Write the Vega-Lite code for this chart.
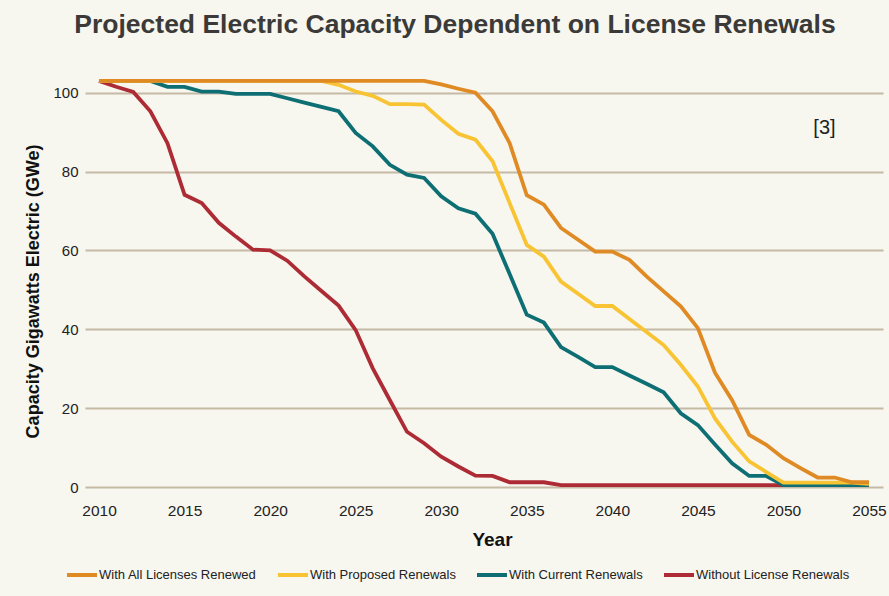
{
  "$schema": "https://vega.github.io/schema/vega-lite/v6.json",
  "width": 798,
  "height": 414,
  "autosize": {"type": "none"},
  "padding": {"left": 85, "top": 73, "right": 6, "bottom": 109},
  "background": "#f7f6ef",
  "config": {"view": {"stroke": null}, "font": "Liberation Sans"},
  "title": {
    "text": "Projected Electric Capacity Dependent on License Renewals",
    "fontSize": 26.5,
    "fontWeight": "bold",
    "color": "#3b3a38",
    "anchor": "middle",
    "frame": "group",
    "dx": -29,
    "offset": 35
  },
  "data": {
    "values": [
      {"series": "Without License Renewals", "year": 2010, "gwe": 103},
      {"series": "Without License Renewals", "year": 2011, "gwe": 101.5},
      {"series": "Without License Renewals", "year": 2012, "gwe": 100.2},
      {"series": "Without License Renewals", "year": 2013, "gwe": 95.3},
      {"series": "Without License Renewals", "year": 2014, "gwe": 87.2},
      {"series": "Without License Renewals", "year": 2015, "gwe": 74.1},
      {"series": "Without License Renewals", "year": 2016, "gwe": 72},
      {"series": "Without License Renewals", "year": 2017, "gwe": 67},
      {"series": "Without License Renewals", "year": 2018, "gwe": 63.5},
      {"series": "Without License Renewals", "year": 2019, "gwe": 60.2},
      {"series": "Without License Renewals", "year": 2020, "gwe": 60},
      {"series": "Without License Renewals", "year": 2021, "gwe": 57.4},
      {"series": "Without License Renewals", "year": 2022, "gwe": 53.4},
      {"series": "Without License Renewals", "year": 2023, "gwe": 49.7},
      {"series": "Without License Renewals", "year": 2024, "gwe": 46},
      {"series": "Without License Renewals", "year": 2025, "gwe": 39.8},
      {"series": "Without License Renewals", "year": 2026, "gwe": 30.1},
      {"series": "Without License Renewals", "year": 2027, "gwe": 22},
      {"series": "Without License Renewals", "year": 2028, "gwe": 14},
      {"series": "Without License Renewals", "year": 2029, "gwe": 11.1},
      {"series": "Without License Renewals", "year": 2030, "gwe": 7.7},
      {"series": "Without License Renewals", "year": 2031, "gwe": 5.2},
      {"series": "Without License Renewals", "year": 2032, "gwe": 2.9},
      {"series": "Without License Renewals", "year": 2033, "gwe": 2.8},
      {"series": "Without License Renewals", "year": 2034, "gwe": 1.2},
      {"series": "Without License Renewals", "year": 2035, "gwe": 1.2},
      {"series": "Without License Renewals", "year": 2036, "gwe": 1.2},
      {"series": "Without License Renewals", "year": 2037, "gwe": 0.5},
      {"series": "Without License Renewals", "year": 2038, "gwe": 0.5},
      {"series": "Without License Renewals", "year": 2039, "gwe": 0.5},
      {"series": "Without License Renewals", "year": 2040, "gwe": 0.5},
      {"series": "Without License Renewals", "year": 2041, "gwe": 0.5},
      {"series": "Without License Renewals", "year": 2042, "gwe": 0.5},
      {"series": "Without License Renewals", "year": 2043, "gwe": 0.5},
      {"series": "Without License Renewals", "year": 2044, "gwe": 0.5},
      {"series": "Without License Renewals", "year": 2045, "gwe": 0.5},
      {"series": "Without License Renewals", "year": 2046, "gwe": 0.5},
      {"series": "Without License Renewals", "year": 2047, "gwe": 0.5},
      {"series": "Without License Renewals", "year": 2048, "gwe": 0.5},
      {"series": "Without License Renewals", "year": 2049, "gwe": 0.5},
      {"series": "Without License Renewals", "year": 2050, "gwe": 0.5},
      {"series": "Without License Renewals", "year": 2051, "gwe": 0.5},
      {"series": "Without License Renewals", "year": 2052, "gwe": 0.5},
      {"series": "Without License Renewals", "year": 2053, "gwe": 0.5},
      {"series": "Without License Renewals", "year": 2054, "gwe": 0.5},
      {"series": "Without License Renewals", "year": 2055, "gwe": 0.5},

      {"series": "With Current Renewals", "year": 2010, "gwe": 103},
      {"series": "With Current Renewals", "year": 2011, "gwe": 103},
      {"series": "With Current Renewals", "year": 2012, "gwe": 103},
      {"series": "With Current Renewals", "year": 2013, "gwe": 103},
      {"series": "With Current Renewals", "year": 2014, "gwe": 101.5},
      {"series": "With Current Renewals", "year": 2015, "gwe": 101.5},
      {"series": "With Current Renewals", "year": 2016, "gwe": 100.3},
      {"series": "With Current Renewals", "year": 2017, "gwe": 100.3},
      {"series": "With Current Renewals", "year": 2018, "gwe": 99.7},
      {"series": "With Current Renewals", "year": 2019, "gwe": 99.7},
      {"series": "With Current Renewals", "year": 2020, "gwe": 99.7},
      {"series": "With Current Renewals", "year": 2021, "gwe": 98.6},
      {"series": "With Current Renewals", "year": 2022, "gwe": 97.5},
      {"series": "With Current Renewals", "year": 2023, "gwe": 96.4},
      {"series": "With Current Renewals", "year": 2024, "gwe": 95.3},
      {"series": "With Current Renewals", "year": 2025, "gwe": 89.8},
      {"series": "With Current Renewals", "year": 2026, "gwe": 86.4},
      {"series": "With Current Renewals", "year": 2027, "gwe": 81.7},
      {"series": "With Current Renewals", "year": 2028, "gwe": 79.2},
      {"series": "With Current Renewals", "year": 2029, "gwe": 78.4},
      {"series": "With Current Renewals", "year": 2030, "gwe": 73.7},
      {"series": "With Current Renewals", "year": 2031, "gwe": 70.7},
      {"series": "With Current Renewals", "year": 2032, "gwe": 69.3},
      {"series": "With Current Renewals", "year": 2033, "gwe": 64.2},
      {"series": "With Current Renewals", "year": 2034, "gwe": 54},
      {"series": "With Current Renewals", "year": 2035, "gwe": 43.7},
      {"series": "With Current Renewals", "year": 2036, "gwe": 41.7},
      {"series": "With Current Renewals", "year": 2037, "gwe": 35.5},
      {"series": "With Current Renewals", "year": 2038, "gwe": 33},
      {"series": "With Current Renewals", "year": 2039, "gwe": 30.4},
      {"series": "With Current Renewals", "year": 2040, "gwe": 30.4},
      {"series": "With Current Renewals", "year": 2041, "gwe": 28.3},
      {"series": "With Current Renewals", "year": 2042, "gwe": 26.2},
      {"series": "With Current Renewals", "year": 2043, "gwe": 24},
      {"series": "With Current Renewals", "year": 2044, "gwe": 18.7},
      {"series": "With Current Renewals", "year": 2045, "gwe": 15.7},
      {"series": "With Current Renewals", "year": 2046, "gwe": 10.8},
      {"series": "With Current Renewals", "year": 2047, "gwe": 6},
      {"series": "With Current Renewals", "year": 2048, "gwe": 2.8},
      {"series": "With Current Renewals", "year": 2049, "gwe": 2.8},
      {"series": "With Current Renewals", "year": 2050, "gwe": 0.5},
      {"series": "With Current Renewals", "year": 2051, "gwe": 0.5},
      {"series": "With Current Renewals", "year": 2052, "gwe": 0.5},
      {"series": "With Current Renewals", "year": 2053, "gwe": 0.5},
      {"series": "With Current Renewals", "year": 2054, "gwe": 0.5},
      {"series": "With Current Renewals", "year": 2055, "gwe": 0.5},

      {"series": "With Proposed Renewals", "year": 2010, "gwe": 103},
      {"series": "With Proposed Renewals", "year": 2011, "gwe": 103},
      {"series": "With Proposed Renewals", "year": 2012, "gwe": 103},
      {"series": "With Proposed Renewals", "year": 2013, "gwe": 103},
      {"series": "With Proposed Renewals", "year": 2014, "gwe": 103},
      {"series": "With Proposed Renewals", "year": 2015, "gwe": 103},
      {"series": "With Proposed Renewals", "year": 2016, "gwe": 103},
      {"series": "With Proposed Renewals", "year": 2017, "gwe": 103},
      {"series": "With Proposed Renewals", "year": 2018, "gwe": 103},
      {"series": "With Proposed Renewals", "year": 2019, "gwe": 103},
      {"series": "With Proposed Renewals", "year": 2020, "gwe": 103},
      {"series": "With Proposed Renewals", "year": 2021, "gwe": 103},
      {"series": "With Proposed Renewals", "year": 2022, "gwe": 103},
      {"series": "With Proposed Renewals", "year": 2023, "gwe": 103},
      {"series": "With Proposed Renewals", "year": 2024, "gwe": 102},
      {"series": "With Proposed Renewals", "year": 2025, "gwe": 100.3},
      {"series": "With Proposed Renewals", "year": 2026, "gwe": 99.2},
      {"series": "With Proposed Renewals", "year": 2027, "gwe": 97.1},
      {"series": "With Proposed Renewals", "year": 2028, "gwe": 97.1},
      {"series": "With Proposed Renewals", "year": 2029, "gwe": 97},
      {"series": "With Proposed Renewals", "year": 2030, "gwe": 93.1},
      {"series": "With Proposed Renewals", "year": 2031, "gwe": 89.6},
      {"series": "With Proposed Renewals", "year": 2032, "gwe": 88.1},
      {"series": "With Proposed Renewals", "year": 2033, "gwe": 82.6},
      {"series": "With Proposed Renewals", "year": 2034, "gwe": 72},
      {"series": "With Proposed Renewals", "year": 2035, "gwe": 61.4},
      {"series": "With Proposed Renewals", "year": 2036, "gwe": 58.4},
      {"series": "With Proposed Renewals", "year": 2037, "gwe": 52.1},
      {"series": "With Proposed Renewals", "year": 2038, "gwe": 49},
      {"series": "With Proposed Renewals", "year": 2039, "gwe": 45.9},
      {"series": "With Proposed Renewals", "year": 2040, "gwe": 45.9},
      {"series": "With Proposed Renewals", "year": 2041, "gwe": 42.6},
      {"series": "With Proposed Renewals", "year": 2042, "gwe": 39.3},
      {"series": "With Proposed Renewals", "year": 2043, "gwe": 36},
      {"series": "With Proposed Renewals", "year": 2044, "gwe": 31},
      {"series": "With Proposed Renewals", "year": 2045, "gwe": 25.5},
      {"series": "With Proposed Renewals", "year": 2046, "gwe": 17.4},
      {"series": "With Proposed Renewals", "year": 2047, "gwe": 11.5},
      {"series": "With Proposed Renewals", "year": 2048, "gwe": 6.5},
      {"series": "With Proposed Renewals", "year": 2049, "gwe": 3.8},
      {"series": "With Proposed Renewals", "year": 2050, "gwe": 1.1},
      {"series": "With Proposed Renewals", "year": 2051, "gwe": 1.1},
      {"series": "With Proposed Renewals", "year": 2052, "gwe": 1.1},
      {"series": "With Proposed Renewals", "year": 2053, "gwe": 1.1},
      {"series": "With Proposed Renewals", "year": 2054, "gwe": 1.1},
      {"series": "With Proposed Renewals", "year": 2055, "gwe": 0.8},

      {"series": "With All Licenses Renewed", "year": 2010, "gwe": 103},
      {"series": "With All Licenses Renewed", "year": 2011, "gwe": 103},
      {"series": "With All Licenses Renewed", "year": 2012, "gwe": 103},
      {"series": "With All Licenses Renewed", "year": 2013, "gwe": 103},
      {"series": "With All Licenses Renewed", "year": 2014, "gwe": 103},
      {"series": "With All Licenses Renewed", "year": 2015, "gwe": 103},
      {"series": "With All Licenses Renewed", "year": 2016, "gwe": 103},
      {"series": "With All Licenses Renewed", "year": 2017, "gwe": 103},
      {"series": "With All Licenses Renewed", "year": 2018, "gwe": 103},
      {"series": "With All Licenses Renewed", "year": 2019, "gwe": 103},
      {"series": "With All Licenses Renewed", "year": 2020, "gwe": 103},
      {"series": "With All Licenses Renewed", "year": 2021, "gwe": 103},
      {"series": "With All Licenses Renewed", "year": 2022, "gwe": 103},
      {"series": "With All Licenses Renewed", "year": 2023, "gwe": 103},
      {"series": "With All Licenses Renewed", "year": 2024, "gwe": 103},
      {"series": "With All Licenses Renewed", "year": 2025, "gwe": 103},
      {"series": "With All Licenses Renewed", "year": 2026, "gwe": 103},
      {"series": "With All Licenses Renewed", "year": 2027, "gwe": 103},
      {"series": "With All Licenses Renewed", "year": 2028, "gwe": 103},
      {"series": "With All Licenses Renewed", "year": 2029, "gwe": 103},
      {"series": "With All Licenses Renewed", "year": 2030, "gwe": 102.1},
      {"series": "With All Licenses Renewed", "year": 2031, "gwe": 101},
      {"series": "With All Licenses Renewed", "year": 2032, "gwe": 100},
      {"series": "With All Licenses Renewed", "year": 2033, "gwe": 95.3},
      {"series": "With All Licenses Renewed", "year": 2034, "gwe": 87.2},
      {"series": "With All Licenses Renewed", "year": 2035, "gwe": 74},
      {"series": "With All Licenses Renewed", "year": 2036, "gwe": 71.6},
      {"series": "With All Licenses Renewed", "year": 2037, "gwe": 65.7},
      {"series": "With All Licenses Renewed", "year": 2038, "gwe": 62.7},
      {"series": "With All Licenses Renewed", "year": 2039, "gwe": 59.7},
      {"series": "With All Licenses Renewed", "year": 2040, "gwe": 59.7},
      {"series": "With All Licenses Renewed", "year": 2041, "gwe": 57.6},
      {"series": "With All Licenses Renewed", "year": 2042, "gwe": 53.4},
      {"series": "With All Licenses Renewed", "year": 2043, "gwe": 49.6},
      {"series": "With All Licenses Renewed", "year": 2044, "gwe": 45.8},
      {"series": "With All Licenses Renewed", "year": 2045, "gwe": 40.3},
      {"series": "With All Licenses Renewed", "year": 2046, "gwe": 29},
      {"series": "With All Licenses Renewed", "year": 2047, "gwe": 22},
      {"series": "With All Licenses Renewed", "year": 2048, "gwe": 13.2},
      {"series": "With All Licenses Renewed", "year": 2049, "gwe": 10.7},
      {"series": "With All Licenses Renewed", "year": 2050, "gwe": 7.3},
      {"series": "With All Licenses Renewed", "year": 2051, "gwe": 4.8},
      {"series": "With All Licenses Renewed", "year": 2052, "gwe": 2.4},
      {"series": "With All Licenses Renewed", "year": 2053, "gwe": 2.4},
      {"series": "With All Licenses Renewed", "year": 2054, "gwe": 1.2},
      {"series": "With All Licenses Renewed", "year": 2055, "gwe": 1.2}
    ]
  },
  "layer": [
    {
      "mark": {"type": "line", "strokeWidth": 3.8},
      "encoding": {
        "x": {
          "field": "year",
          "type": "quantitative",
          "scale": {"domain": [2009.18, 2055.82], "nice": false, "zero": false},
          "axis": {
            "title": "Year",
            "values": [2010, 2015, 2020, 2025, 2030, 2035, 2040, 2045, 2050, 2055],
            "format": "d",
            "grid": false,
            "domain": false,
            "ticks": false,
            "labelPadding": 16,
            "labelFontSize": 15.5,
            "labelColor": "#222222",
            "titleFontSize": 19,
            "titleFontWeight": "bold",
            "titleColor": "#111111",
            "titlePadding": 12,
            "titleX": 407
          }
        },
        "y": {
          "field": "gwe",
          "type": "quantitative",
          "scale": {"domain": [0, 105], "nice": false},
          "axis": {
            "title": "Capacity Gigawatts Electric (GWe)",
            "values": [0, 20, 40, 60, 80, 100],
            "grid": true,
            "gridColor": "#c6b9a6",
            "gridWidth": 2,
            "domain": false,
            "ticks": false,
            "labelPadding": 7,
            "labelFontSize": 15,
            "labelColor": "#222222",
            "titleFontSize": 18,
            "titleFontWeight": "bold",
            "titleColor": "#111111",
            "titlePadding": 10,
            "titleY": 218
          }
        },
        "color": {
          "field": "series",
          "type": "nominal",
          "scale": {
            "domain": ["With All Licenses Renewed", "With Proposed Renewals", "With Current Renewals", "Without License Renewals"],
            "range": ["#df8a23", "#f8c433", "#0d6f73", "#ad2b34"]
          },
          "legend": {
            "orient": "none",
            "legendX": -20,
            "legendY": 485,
            "direction": "horizontal",
            "title": null,
            "symbolType": "stroke",
            "symbolSize": 900,
            "symbolStrokeWidth": 4,
            "labelFontSize": 13,
            "labelColor": "#222222",
            "labelOffset": 0,
            "columnPadding": 13,
            "labelLimit": 300
          }
        }
      }
    },
    {
      "data": {"values": [{"note": "[3]"}]},
      "mark": {"type": "text", "fontSize": 20, "font": "Liberation Sans", "color": "#222222"},
      "encoding": {
        "text": {"field": "note"},
        "x": {"datum": 2052.4},
        "y": {"datum": 91.1}
      }
    }
  ]
}
